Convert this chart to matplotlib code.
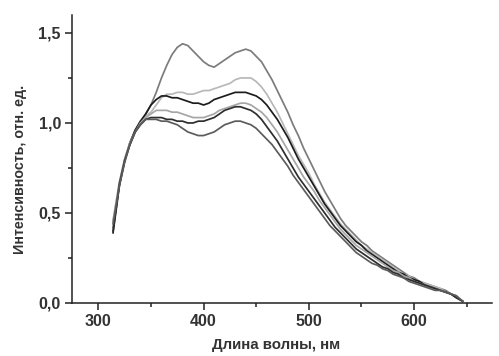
import matplotlib
matplotlib.use("Agg")
import matplotlib.pyplot as plt
from matplotlib.ticker import MultipleLocator, FuncFormatter

plt.rcParams["font.family"] = ["Liberation Sans", "DejaVu Sans"]

wavelength = [314, 320, 325, 330, 335, 340, 345, 350, 355, 360, 365, 370, 375, 380, 385,
              390, 395, 400, 405, 410, 415, 420, 425, 430, 435, 440, 445, 450, 455, 460,
              465, 470, 475, 480, 485, 490, 495, 500, 505, 510, 515, 520, 525, 530, 535,
              540, 545, 550, 555, 560, 565, 570, 575, 580, 585, 590, 595, 600, 605, 610,
              615, 620, 625, 630, 635, 640, 646]

s1 = [0.42, 0.66, 0.79, 0.88, 0.95, 1.00, 1.05, 1.10, 1.17, 1.25, 1.32, 1.38, 1.42, 1.44, 1.43,
      1.40, 1.37, 1.34, 1.32, 1.31, 1.33, 1.35, 1.37, 1.39, 1.40, 1.41, 1.40, 1.37, 1.34, 1.29,
      1.24, 1.18, 1.12, 1.06, 0.99, 0.93, 0.86, 0.80, 0.74, 0.68, 0.62, 0.57, 0.52, 0.47, 0.43,
      0.40, 0.37, 0.34, 0.32, 0.29, 0.27, 0.25, 0.23, 0.21, 0.19, 0.17, 0.15, 0.14, 0.12, 0.11,
      0.10, 0.09, 0.08, 0.07, 0.05, 0.04, 0.01]
s2 = [0.45, 0.67, 0.80, 0.89, 0.96, 1.01, 1.04, 1.06, 1.10, 1.14, 1.16, 1.16, 1.17, 1.17, 1.16,
      1.16, 1.17, 1.18, 1.18, 1.19, 1.20, 1.21, 1.22, 1.24, 1.25, 1.25, 1.25, 1.23, 1.20, 1.16,
      1.11, 1.06, 1.00, 0.94, 0.88, 0.82, 0.77, 0.72, 0.66, 0.61, 0.56, 0.52, 0.48, 0.44, 0.41,
      0.38, 0.35, 0.32, 0.30, 0.28, 0.26, 0.24, 0.22, 0.20, 0.18, 0.16, 0.15, 0.13, 0.12, 0.11,
      0.10, 0.09, 0.08, 0.06, 0.05, 0.04, 0.01]
s3 = [0.39, 0.65, 0.79, 0.89, 0.96, 1.01, 1.05, 1.10, 1.13, 1.15, 1.15, 1.14, 1.14, 1.13, 1.12,
      1.11, 1.11, 1.10, 1.11, 1.13, 1.14, 1.15, 1.16, 1.17, 1.17, 1.17, 1.16, 1.15, 1.13, 1.10,
      1.06, 1.02, 0.97, 0.92, 0.86, 0.80, 0.75, 0.70, 0.65, 0.60, 0.55, 0.51, 0.47, 0.43, 0.40,
      0.37, 0.34, 0.32, 0.29, 0.27, 0.25, 0.23, 0.21, 0.19, 0.17, 0.16, 0.14, 0.13, 0.12, 0.10,
      0.09, 0.08, 0.07, 0.06, 0.05, 0.03, 0.01]
s4 = [0.46, 0.67, 0.80, 0.89, 0.95, 1.00, 1.03, 1.05, 1.07, 1.07, 1.07, 1.06, 1.06, 1.05, 1.04,
      1.03, 1.03, 1.03, 1.04, 1.05, 1.07, 1.08, 1.09, 1.10, 1.11, 1.11, 1.10, 1.08, 1.06, 1.03,
      0.99, 0.95, 0.90, 0.85, 0.80, 0.75, 0.70, 0.66, 0.62, 0.57, 0.53, 0.49, 0.45, 0.41, 0.38,
      0.35, 0.32, 0.30, 0.28, 0.26, 0.24, 0.22, 0.20, 0.18, 0.17, 0.15, 0.14, 0.12, 0.11, 0.10,
      0.09, 0.08, 0.07, 0.06, 0.05, 0.04, 0.01]
s5 = [0.40, 0.66, 0.79, 0.88, 0.95, 0.99, 1.02, 1.03, 1.03, 1.03, 1.02, 1.02, 1.01, 1.01, 1.00,
      1.00, 1.01, 1.01, 1.02, 1.03, 1.05, 1.07, 1.08, 1.09, 1.09, 1.08, 1.07, 1.05, 1.02, 0.98,
      0.94, 0.90, 0.85, 0.80, 0.75, 0.70, 0.66, 0.62, 0.58, 0.54, 0.50, 0.46, 0.42, 0.39, 0.36,
      0.33, 0.30, 0.28, 0.26, 0.24, 0.22, 0.20, 0.19, 0.17, 0.16, 0.14, 0.13, 0.12, 0.11, 0.10,
      0.09, 0.08, 0.07, 0.06, 0.05, 0.03, 0.01]
s6 = [0.44, 0.65, 0.78, 0.88, 0.95, 0.99, 1.02, 1.02, 1.02, 1.01, 1.01, 1.00, 0.99, 0.97, 0.95,
      0.94, 0.93, 0.93, 0.94, 0.95, 0.97, 0.99, 1.00, 1.01, 1.01, 1.00, 0.99, 0.97, 0.94, 0.91,
      0.88, 0.84, 0.80, 0.76, 0.71, 0.67, 0.63, 0.59, 0.55, 0.51, 0.47, 0.43, 0.40, 0.37, 0.34,
      0.31, 0.28, 0.26, 0.24, 0.22, 0.21, 0.19, 0.18, 0.16, 0.15, 0.14, 0.12, 0.11, 0.10, 0.09,
      0.08, 0.07, 0.07, 0.06, 0.05, 0.04, 0.01]

series = [s1, s2, s3, s4, s5, s6]
colors = ["#7c7c7c", "#b8b8b8", "#1c1c1c", "#a6a6a6", "#2e2e2e", "#5c5c5c"]

x_label = "Длина волны, нм"
y_label = "Интенсивность, отн. ед."

fig = plt.figure(figsize=(4.99, 3.56), dpi=100)
ax = fig.add_axes([0.1443, 0.1489, 0.986 - 0.1443, 0.958 - 0.1489])

for ys, c in zip(series, colors):
    ax.plot(wavelength, ys, color=c, lw=1.25)

ax.set_xlim(275, 674)
ax.set_ylim(0, 1.6)
ax.spines["top"].set_visible(False)
ax.spines["right"].set_visible(False)
for sp in ("left", "bottom"):
    ax.spines[sp].set_linewidth(1.1)
    ax.spines[sp].set_color("#222222")

ax.xaxis.set_major_locator(MultipleLocator(100))
ax.xaxis.set_minor_locator(MultipleLocator(50))
ax.yaxis.set_major_locator(MultipleLocator(0.5))
ax.yaxis.set_minor_locator(MultipleLocator(0.25))
ax.yaxis.set_major_formatter(FuncFormatter(lambda v, p: f"{v:.1f}".replace(".", ",")))
ax.tick_params(which="major", direction="out", length=5, width=1.1, color="#222222",
               labelsize=11.5, labelcolor="#333333", pad=3)
ax.tick_params(which="minor", direction="out", length=3, width=1.1, color="#222222")
for lbl in ax.get_xticklabels() + ax.get_yticklabels():
    lbl.set_fontweight("bold")

ax.set_xlabel(x_label, fontsize=10.8, fontweight="bold", color="#333333")
ax.set_ylabel(y_label, fontsize=10.3, fontweight="bold", color="#333333")
ax.xaxis.label.set_va("center")
ax.yaxis.label.set_va("center")
ax.xaxis.set_label_coords(0.487, -0.146)
ax.yaxis.set_label_coords(-0.124, 0.462)

fig.savefig("out.png", dpi=100)
